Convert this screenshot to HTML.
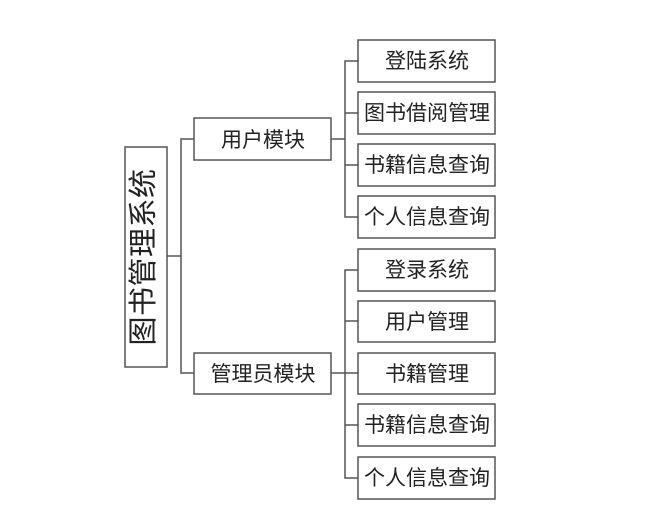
<!DOCTYPE html>
<html><head><meta charset="utf-8"><style>
html,body{margin:0;padding:0;background:#fff;}
svg{display:block;}
text{font-family:"Liberation Sans","Noto Sans CJK SC",sans-serif;fill:#222;}
</style></head><body>
<svg width="670" height="527" viewBox="0 0 670 527" xmlns="http://www.w3.org/2000/svg">
<g fill="none" stroke="#555" stroke-width="1.5">
<rect x="125" y="147" width="42" height="220"/>
<line x1="167" y1="256" x2="181" y2="256"/>
<polyline points="194,139 181,139 181,373 194,373"/>
<rect x="194" y="118" width="137" height="42"/>
<rect x="194" y="353" width="137" height="41"/>
<line x1="331" y1="139" x2="345" y2="139"/>
<line x1="331" y1="373" x2="345" y2="373"/>
<polyline points="358,61 345,61 345,217 358,217"/>
<line x1="345" y1="113" x2="358" y2="113"/>
<line x1="345" y1="165" x2="358" y2="165"/>
<polyline points="358,270 345,270 345,478 358,478"/>
<line x1="345" y1="321" x2="358" y2="321"/>
<line x1="345" y1="373" x2="358" y2="373"/>
<line x1="345" y1="425" x2="358" y2="425"/>
<rect x="358" y="40" width="137" height="42"/>
<rect x="358" y="92" width="137" height="42"/>
<rect x="358" y="144" width="137" height="42"/>
<rect x="358" y="196" width="137" height="42"/>
<rect x="358" y="249" width="137" height="42"/>
<rect x="358" y="301" width="137" height="41"/>
<rect x="358" y="353" width="137" height="41"/>
<rect x="358" y="404" width="137" height="42"/>
<rect x="358" y="457" width="137" height="42"/>
</g>
<text transform="translate(153,257) rotate(-90)" font-size="29" text-anchor="middle" letter-spacing="0.5">图书管理系统</text>
<g font-size="21" text-anchor="middle">
<text x="263" y="147">用户模块</text>
<text x="263" y="381">管理员模块</text>
<text x="427" y="68">登陆系统</text>
<text x="427" y="120">图书借阅管理</text>
<text x="427" y="172">书籍信息查询</text>
<text x="427" y="224">个人信息查询</text>
<text x="427" y="277">登录系统</text>
<text x="427" y="329">用户管理</text>
<text x="427" y="381">书籍管理</text>
<text x="427" y="432">书籍信息查询</text>
<text x="427" y="485">个人信息查询</text>
</g>
</svg>
</body></html>
